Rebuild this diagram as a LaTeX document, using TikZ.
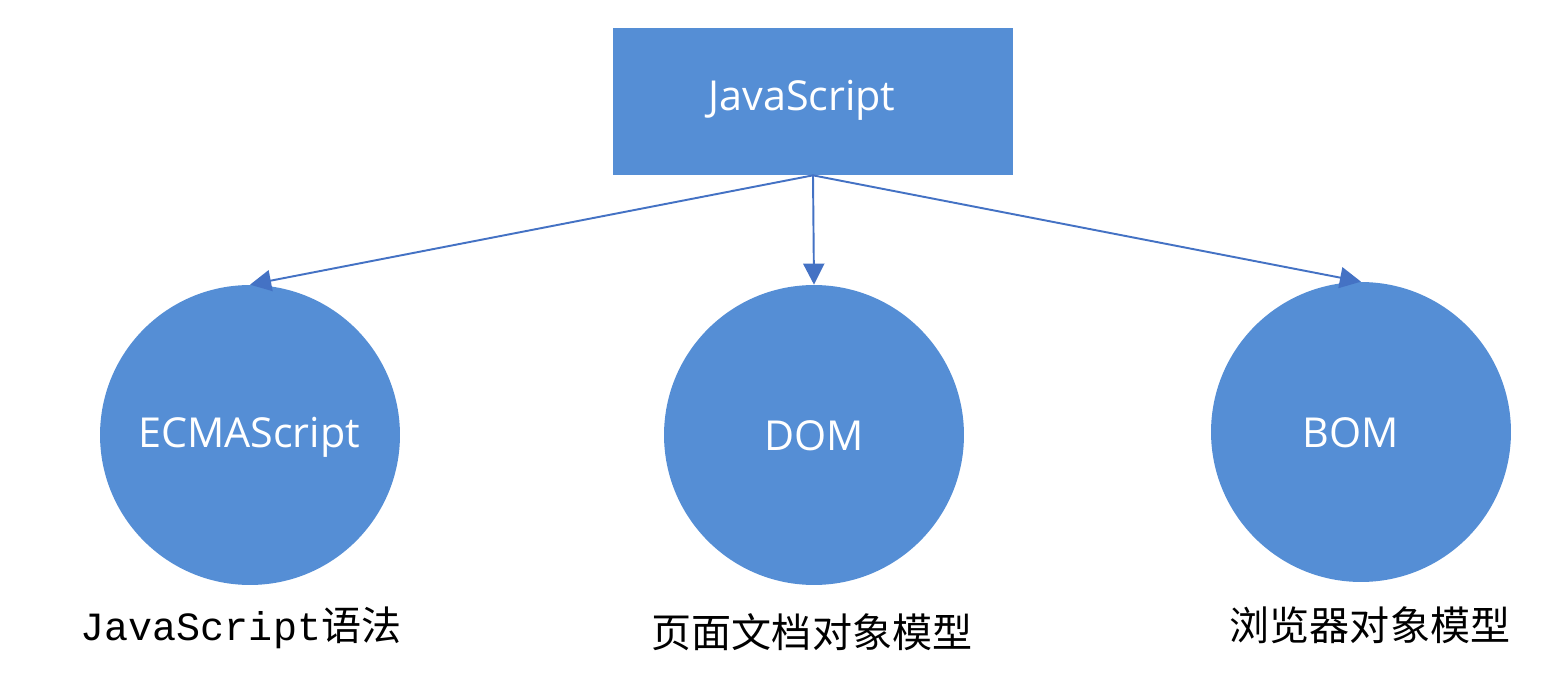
\documentclass[tikz,border=0pt]{standalone}
\usepackage{fontspec}
\setmainfont{Open Sans}
\setmonofont{Liberation Mono}
\newfontfamily\cjk{Noto Sans CJK SC}
\usetikzlibrary{arrows.meta}
\definecolor{boxblue}{HTML}{558ED5}
\definecolor{lineblue}{HTML}{4472C4}

\begin{document}
\begin{tikzpicture}[x=0.02cm,y=-0.02cm,>={Triangle[length=12pt,width=12pt]}]
  \useasboundingbox (0,0) rectangle (1563,682);
  \tikzset{
    part/.style={circle,fill=boxblue,minimum size=6cm,inner sep=0pt},
    partname/.style={text=white,font=\fontsize{23.5}{28}\selectfont},
    caption/.style={font=\cjk\fontsize{22.8}{27}\selectfont}
  }
  % top box
  \node[fill=boxblue,minimum width=8cm,minimum height=2.94cm] (js) at (813,101.5) {};
  \node[partname] (jsname) at (802,100) {JavaScript};
  % the three parts
  \node[part] (ecma) at (250,435) {};
  \node[part] (dom) at (814,435) {};
  \node[part] (bom) at (1361,432) {};
  \node[partname] (ecmaname) at (249,437) {ECMAScript};
  \node[partname] (domname) at (814,436) {DOM};
  \node[partname] (bomname) at (1351,433) {BOM};
  % arrows
  \foreach \p in {ecma,dom,bom}
    \draw[->,lineblue,line width=1.1pt] (js.south) -- (\p.north);
  % captions
  \node[caption] (ecmacap) at (241,628) {{\ttfamily JavaScript}语法};
  \node[caption] (domcap) at (812,632) {页面文档对象模型};
  \node[caption] (bomcap) at (1370,625) {浏览器对象模型};
\end{tikzpicture}
\end{document}
